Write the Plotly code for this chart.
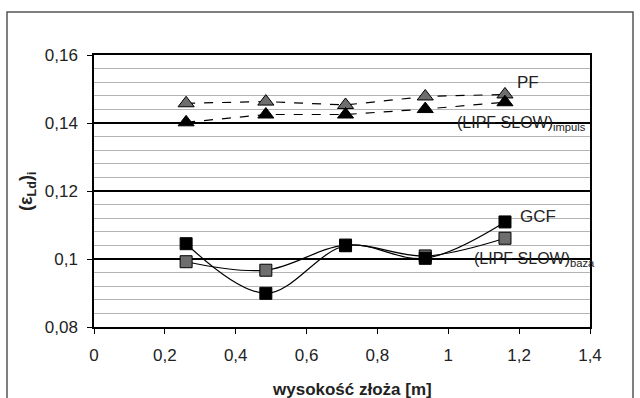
import plotly.graph_objects as go

# Data
heights = [0.26, 0.485, 0.71, 0.935, 1.16]
pf = [0.1458, 0.1463, 0.1453, 0.1478, 0.1484]
lipf_impuls = [0.1402, 0.1425, 0.1425, 0.1441, 0.1461]
gcf = [0.1045, 0.0899, 0.1039, 0.1002, 0.1109]
lipf_baza = [0.0992, 0.0967, 0.1041, 0.1009, 0.1061]
x_ticks = [0, 0.2, 0.4, 0.6, 0.8, 1.0, 1.2, 1.4]
y_ticks = [0.08, 0.10, 0.12, 0.14, 0.16]

FONT = "Liberation Sans, Arial, sans-serif"

fig = go.Figure()

# dashed triangle series
fig.add_trace(go.Scatter(x=heights, y=pf, mode="lines+markers", name="PF",
                         line=dict(color="black", width=1.2, dash="dash"),
                         marker=dict(symbol="triangle-up", size=14, color="#6e6e6e",
                                     line=dict(color="black", width=1))))
fig.add_trace(go.Scatter(x=heights, y=lipf_impuls, mode="lines+markers", name="(LIPF SLOW)impuls",
                         line=dict(color="black", width=1.2, dash="dash"),
                         marker=dict(symbol="triangle-up", size=14, color="black",
                                     line=dict(color="black", width=1))))
# smooth square series
fig.add_trace(go.Scatter(x=heights, y=lipf_baza, mode="lines+markers", name="(LIPF SLOW)baza",
                         line=dict(color="black", width=1.2, shape="spline", smoothing=1),
                         marker=dict(symbol="square", size=12, color="#6e6e6e",
                                     line=dict(color="black", width=1))))
fig.add_trace(go.Scatter(x=heights, y=gcf, mode="lines+markers", name="GCF",
                         line=dict(color="black", width=1.2, shape="spline", smoothing=1),
                         marker=dict(symbol="square", size=12, color="black",
                                     line=dict(color="black", width=1))))

fig.update_layout(
    width=640, height=398,
    margin=dict(l=94, r=50, t=55, b=71),
    paper_bgcolor="white", plot_bgcolor="white",
    showlegend=False,
    separators=", ",
    font=dict(family=FONT, size=17, color="#222"),
)

fig.update_xaxes(range=[0, 1.4], tickvals=x_ticks, showgrid=False, zeroline=False,
                 showline=True, linecolor="black", linewidth=1.5, mirror=True,
                 ticks="outside", ticklen=5, tickcolor="black", tickwidth=1,
                 ticklabelstandoff=7, tickfont=dict(size=17, color="#222"))
fig.update_yaxes(range=[0.08, 0.16], tickvals=y_ticks, zeroline=False,
                 showgrid=True, gridcolor="black", gridwidth=1.5,
                 minor=dict(dtick=0.004, showgrid=True, gridcolor="#b4b4b4", gridwidth=1.3),
                 showline=True, linecolor="black", linewidth=1.5, mirror=True,
                 ticks="outside", ticklen=5, tickcolor="black", tickwidth=1,
                 ticklabelstandoff=6, tickfont=dict(size=17, color="#222"))

# series labels
labels = [
    ("PF", 1.188, 0.1518, 17),
    ("(LIPF SLOW)<sub>impuls</sub>", 1.019, 0.1400, 16),
    ("GCF", 1.197, 0.1126, 17),
    ("(LIPF SLOW)<sub>baza</sub>", 1.067, 0.1000, 16),
]
for txt, xx, yy, fs in labels:
    fig.add_annotation(x=xx, y=yy, xref="x", yref="y", text=txt, showarrow=False,
                       xanchor="left", yanchor="middle",
                       font=dict(family=FONT, size=fs, color="#222"))

# axis titles
fig.add_annotation(x=(352 - 94) / 496, y=(327 - 389) / 272, xref="paper", yref="paper",
                   text="<b>wysokość złoża [m]</b>", showarrow=False,
                   xanchor="center", yanchor="middle",
                   font=dict(family=FONT, size=17, color="#222"))
fig.add_annotation(x=(27 - 94) / 496, y=(327 - 192) / 272, xref="paper", yref="paper",
                   text="<b>(ε<sub>Ld</sub>)<sub>i</sub></b>", showarrow=False, textangle=-90,
                   xanchor="center", yanchor="middle",
                   font=dict(family=FONT, size=18, color="#222"))

# outer chart frame
fig.add_shape(type="rect", xref="paper", yref="paper",
              x0=(7 - 94) / 496, x1=(633 - 94) / 496,
              y0=(327 - 420) / 272, y1=(327 - 12) / 272,
              line=dict(color="#555", width=1.5), fillcolor="rgba(0,0,0,0)", layer="below")

fig.write_html("out.html")
